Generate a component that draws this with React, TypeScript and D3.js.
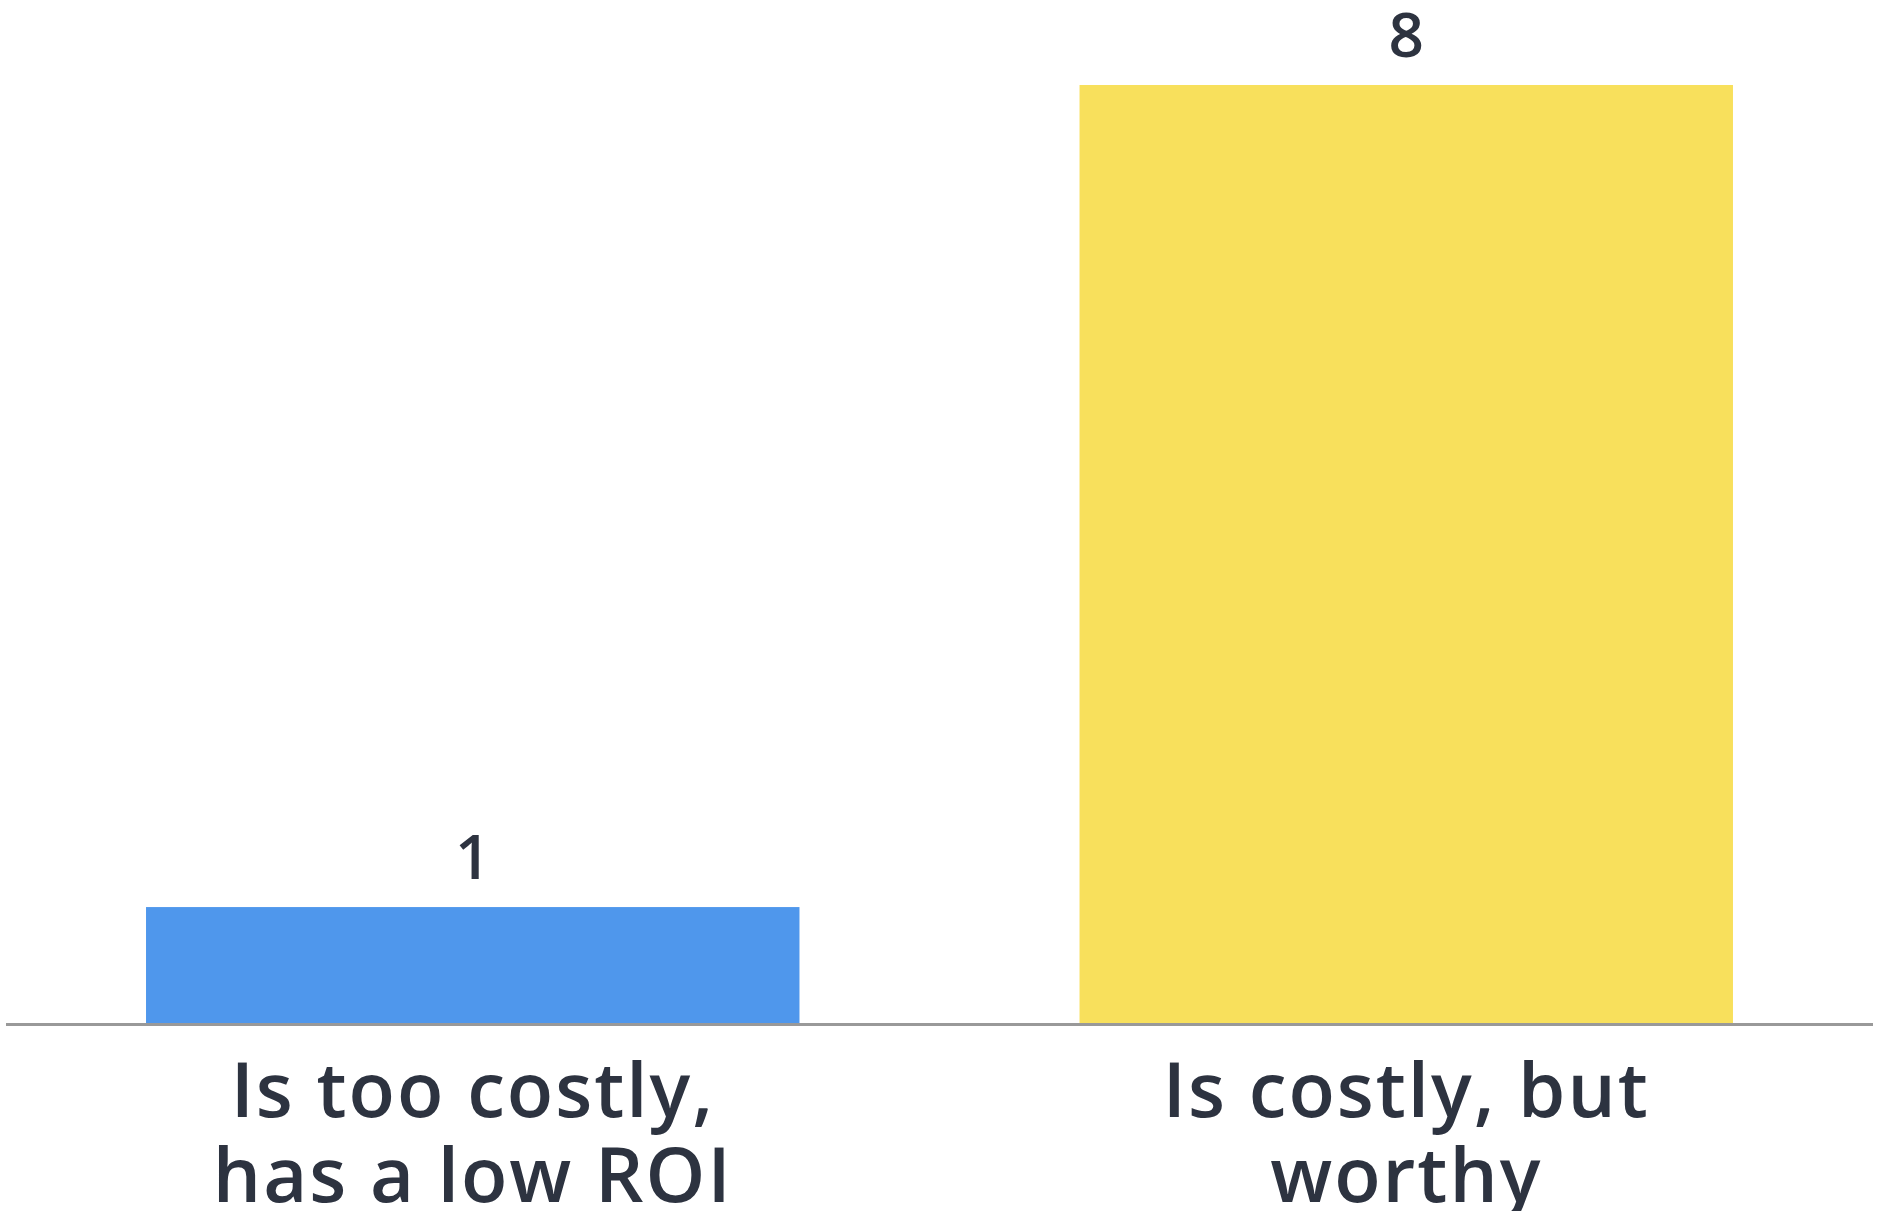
import React from "react";
import * as d3 from "d3";

const categories: string[][] = [["Is too costly,", "has a low ROI"], ["Is costly, but", "worthy"]];
const values: number[] = [1, 8];
const colors: string[] = ["#4F97EC", "#F8E05C"];

const W = 1879;
const H = 1211;

export default function App() {
  const ids = categories.map((_, i) => String(i));
  const x = d3.scaleBand<string>().domain(ids).range([6, 1873]).paddingInner(0.3).paddingOuter(0.15);
  const baseline = 1024.5;
  const y = d3.scaleLinear().domain([0, 8]).range([baseline, 85]);
  const font = "'Open Sans', 'Noto Sans', sans-serif";
  return (
    <svg width={W} height={H} style={{ position: "absolute", left: 0, top: 0, background: "#fff" }}>
      {values.map((v, i) => {
        const x0 = x(String(i))!;
        const cx = x0 + x.bandwidth() / 2;
        return (
          <g key={i}>
            <rect x={x0} y={y(v)} width={x.bandwidth()} height={baseline - y(v)} fill={colors[i]} />
            <text x={cx} y={y(v) - 28} textAnchor="middle" fontFamily={font} fontSize={62} fontWeight={550} fill="#2D3340">
              {d3.format("d")(v)}
            </text>
            {categories[i].map((line, j) => (
              <text key={j} x={cx} y={1117 + j * 85} textAnchor="middle" fontFamily={font} fontSize={76} fontWeight={550} letterSpacing={2} fill="#2D3340">
                {line}
              </text>
            ))}
          </g>
        );
      })}
      <line x1={6} x2={1873} y1={baseline} y2={baseline} stroke="#999" strokeWidth={3} />
    </svg>
  );
}
